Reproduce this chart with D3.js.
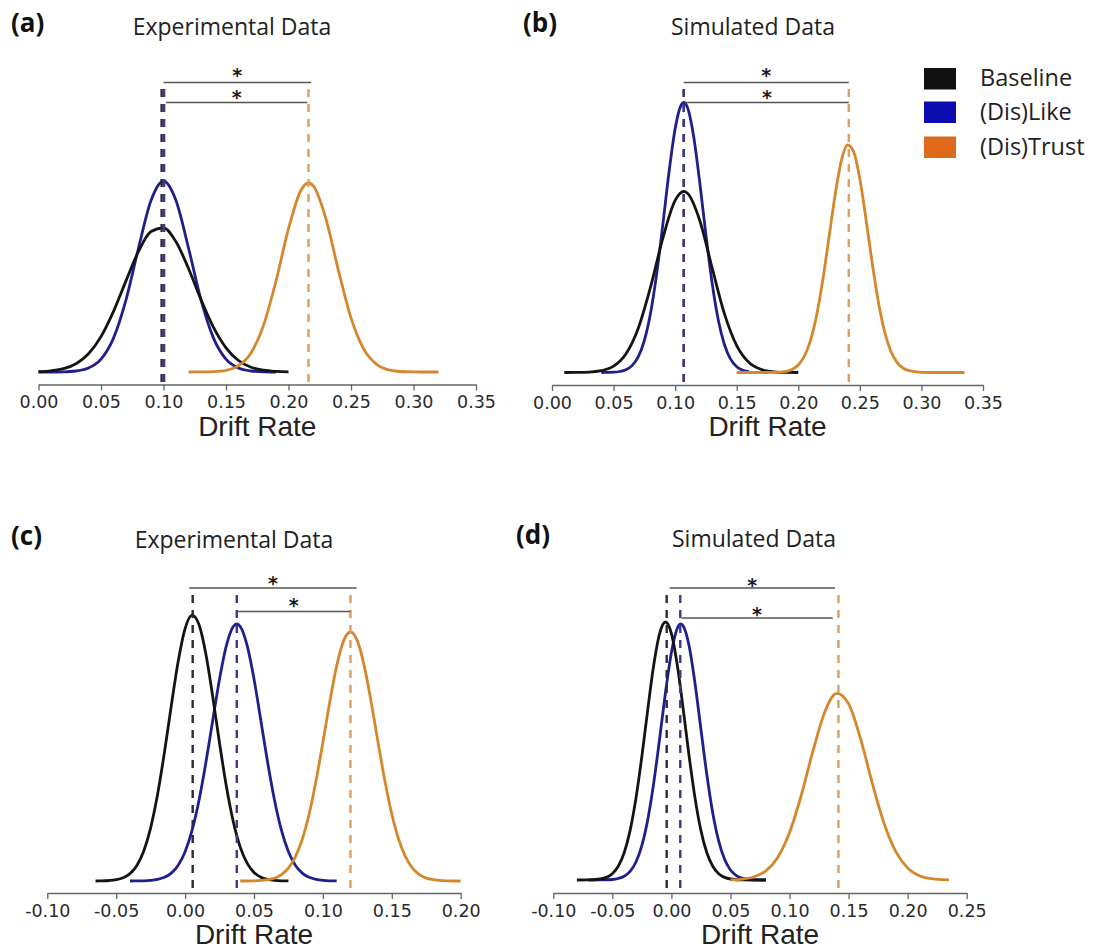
<!DOCTYPE html>
<html lang="en">
<head>
  <meta charset="UTF-8">
  <title>Drift Rate posteriors</title>
  <script src="https://d3js.org/d3.v7.min.js"></script>
  <style>
    body { margin: 0; background: #fff; }
    svg { display: block; }
    .tick text { font-family: "DejaVu Sans", sans-serif; font-size: 17.5px; fill: #2a2a2a; }
    .tick line, .domain { stroke: #666; stroke-width: 1.3; }
  </style>
</head>
<body>
  <div id="chart"></div>

  <script>
    // ---- data (density estimates) ----
    const conditions = ["Baseline", "(Dis)Like", "(Dis)Trust"];
    const panelTags = ["(a)", "(b)", "(c)", "(d)"];
    const panelTitles = ["Experimental Data", "Simulated Data", "Experimental Data", "Simulated Data"];

    const ticksAB = [0, 0.05, 0.10, 0.15, 0.20, 0.25, 0.30, 0.35];
    const tickLabelsAB = ["0.00", "0.05", "0.10", "0.15", "0.20", "0.25", "0.30", "0.35"];
    const ticksC = [-0.10, -0.05, 0, 0.05, 0.10, 0.15, 0.20];
    const tickLabelsC = ["-0.10", "-0.05", "0.00", "0.05", "0.10", "0.15", "0.20"];
    const ticksD = [-0.10, -0.05, 0, 0.05, 0.10, 0.15, 0.20, 0.25];
    const tickLabelsD = ["-0.10", "-0.05", "0.00", "0.05", "0.10", "0.15", "0.20", "0.25"];

    // panel (a)
    const aBaseline = [[0.00,0.04],[0.01,0.12],[0.02,0.33],[0.03,0.83],[0.04,1.83],[0.05,3.54],[0.06,6.06],[0.07,9.11],[0.08,12.06],[0.09,14.05],[0.10,14.42],[0.11,13.02],[0.12,10.35],[0.13,7.24],[0.14,4.46],[0.15,2.42],[0.16,1.15],[0.17,0.48],[0.18,0.18],[0.19,0.06],[0.20,0.02]];
    const aLike = [[0.00,0],[0.01,0],[0.02,0.02],[0.03,0.10],[0.04,0.39],[0.05,1.28],[0.06,3.39],[0.07,7.22],[0.08,12.4],[0.09,17.14],[0.10,19.1],[0.11,17.14],[0.12,12.4],[0.13,7.22],[0.14,3.39],[0.15,1.28],[0.16,0.39],[0.17,0.10],[0.18,0.02],[0.19,0]];
    const aTrust = [[0.12,0],[0.13,0.01],[0.14,0.04],[0.15,0.17],[0.16,0.63],[0.17,1.91],[0.18,4.66],[0.19,9.10],[0.20,14.33],[0.21,18.18],[0.216,18.9],[0.22,18.58],[0.23,15.29],[0.24,10.14],[0.25,5.41],[0.26,2.33],[0.27,0.81],[0.28,0.22],[0.29,0.05],[0.30,0.01],[0.31,0],[0.32,0]];
    const aMeans = [0.0985, 0.1005, 0.216];
    const aBrackets = [[0.100, 0.218], [0.102, 0.215]];

    // panel (b)
    const bBaseline = [[0.01,0],[0.02,0.01],[0.03,0.04],[0.04,0.18],[0.05,0.63],[0.06,1.85],[0.07,4.40],[0.08,8.53],[0.09,13.43],[0.10,17.21],[0.107,18.1],[0.11,17.93],[0.12,15.20],[0.13,10.48],[0.14,5.88],[0.15,2.68],[0.16,0.99],[0.17,0.30],[0.18,0.07],[0.19,0.01],[0.20,0]];
    const bLike = [[0.040,0],[0.045,0.01],[0.050,0.03],[0.055,0.10],[0.060,0.27],[0.065,0.69],[0.070,1.56],[0.075,3.20],[0.080,5.92],[0.085,9.86],[0.090,14.79],[0.095,20.01],[0.100,24.38],[0.105,26.78],[0.107,27.0],[0.110,26.50],[0.115,23.63],[0.120,18.99],[0.125,13.76],[0.130,8.98],[0.135,5.28],[0.140,2.80],[0.145,1.34],[0.150,0.58],[0.155,0.22],[0.160,0.08]];
    const bTrust = [[0.150,0],[0.170,0],[0.180,0.01],[0.190,0.12],[0.195,0.31],[0.200,0.75],[0.205,1.65],[0.210,3.24],[0.215,5.79],[0.220,9.32],[0.225,13.57],[0.230,17.83],[0.235,21.19],[0.240,22.75],[0.245,22.07],[0.250,19.35],[0.255,15.32],[0.260,10.97],[0.265,7.08],[0.270,4.14],[0.275,2.18],[0.280,1.04],[0.285,0.45],[0.290,0.18],[0.300,0.02],[0.310,0],[0.335,0]];
    const bMeans = [0.107, 0.107, 0.241];
    const bBrackets = [[0.107, 0.241], [0.108, 0.241]];

    // panel (c)
    const cBaseline = [[-0.065,0],[-0.060,0.02],[-0.055,0.05],[-0.050,0.13],[-0.045,0.32],[-0.040,0.74],[-0.035,1.56],[-0.030,3.01],[-0.025,5.32],[-0.020,8.64],[-0.015,12.86],[-0.010,17.55],[-0.005,21.97],[0.000,25.24],[0.005,26.59],[0.010,25.68],[0.015,22.75],[0.020,18.49],[0.025,13.78],[0.030,9.42],[0.035,5.91],[0.040,3.39],[0.045,1.79],[0.050,0.86],[0.055,0.38],[0.060,0.16],[0.065,0.06],[0.070,0.02],[0.075,0.01]];
    const cLike = [[-0.040,0],[-0.035,0.01],[-0.030,0.02],[-0.025,0.06],[-0.020,0.16],[-0.015,0.37],[-0.010,0.79],[-0.005,1.58],[0.000,2.93],[0.005,5.03],[0.010,8.00],[0.015,11.77],[0.020,16.02],[0.025,20.2],[0.030,23.56],[0.035,25.45],[0.0375,25.7],[0.040,25.45],[0.045,23.56],[0.050,20.2],[0.055,16.02],[0.060,11.77],[0.065,8.00],[0.070,5.03],[0.075,2.93],[0.080,1.58],[0.085,0.79],[0.090,0.37],[0.095,0.16],[0.100,0.06],[0.105,0.02],[0.110,0.01]];
    const cTrust = [[0.040,0],[0.050,0.02],[0.060,0.13],[0.070,0.64],[0.075,1.29],[0.080,2.41],[0.085,4.16],[0.090,6.69],[0.095,10.0],[0.100,13.88],[0.105,17.92],[0.110,21.51],[0.115,24.01],[0.120,24.9],[0.125,24.01],[0.130,21.51],[0.135,17.92],[0.140,13.88],[0.145,10.0],[0.150,6.69],[0.155,4.16],[0.160,2.41],[0.165,1.29],[0.170,0.64],[0.180,0.13],[0.190,0.02],[0.200,0]];
    const cMeans = [0.0055, 0.0375, 0.120];
    const cBrackets = [[0.003, 0.1245], [0.0375, 0.120]];

    // panel (d)
    const dBaseline = [[-0.080,0],[-0.070,0.01],[-0.060,0.10],[-0.055,0.26],[-0.050,0.63],[-0.045,1.37],[-0.040,2.72],[-0.035,4.94],[-0.030,8.19],[-0.025,12.38],[-0.020,17.07],[-0.015,21.47],[-0.010,24.64],[-0.005,25.8],[0.000,24.64],[0.005,21.47],[0.010,17.07],[0.015,12.38],[0.020,8.19],[0.025,4.94],[0.030,2.72],[0.035,1.37],[0.040,0.63],[0.045,0.26],[0.050,0.10],[0.060,0.01],[0.070,0],[0.080,0]];
    const dLike = [[-0.070,0],[-0.060,0.01],[-0.050,0.05],[-0.045,0.15],[-0.040,0.37],[-0.035,0.86],[-0.030,1.80],[-0.025,3.46],[-0.020,6.06],[-0.015,9.69],[-0.010,14.12],[-0.005,18.77],[0.000,22.76],[0.005,25.18],[0.008,25.6],[0.010,25.41],[0.015,23.4],[0.020,19.65],[0.025,15.06],[0.030,10.53],[0.035,6.71],[0.040,3.91],[0.045,2.07],[0.050,1.00],[0.055,0.44],[0.060,0.18],[0.065,0.06],[0.070,0.02],[0.080,0]];
    const dTrust = [[0.050,0.02],[0.060,0.09],[0.070,0.32],[0.080,0.92],[0.090,2.26],[0.100,4.75],[0.110,8.50],[0.120,12.96],[0.130,16.85],[0.140,18.67],[0.150,17.62],[0.160,14.18],[0.170,9.72],[0.180,5.68],[0.190,2.83],[0.200,1.20],[0.210,0.43],[0.220,0.13],[0.230,0.04],[0.235,0.02]];
    const dMeans = [-0.004, 0.0075, 0.1414];
    const dBrackets = [[-0.0015, 0.1385], [0.0085, 0.1365]];

    // ---- styles ----
    const curveColors = ["#141414", "#20208c", "#d5872c"];
    const dashColors = ["#2a2a3a", "#3a3a8c", "#dc9f60"];
    const legendColors = ["#111111", "#0c0cb0", "#e06a1c"];

    const width = 1094, height = 949;
    const svg = d3.select("#chart").append("svg")
      .attr("width", width)
      .attr("height", height);
    svg.append("rect").attr("width", width).attr("height", height).attr("fill", "#fff");

    const panels = [
      { tag: 0, series: [aBaseline, aLike, aTrust], means: aMeans, brackets: aBrackets,
        domain: [0, 0.35], xRange: [38.5, 476], ticks: ticksAB, labels: tickLabelsAB,
        base: 372, axisY: 384.5, dashTop: 89, bracketY: [82.5, 102.5], starY: [71.3, 93.6],
        tagX: 11, titleX: 232, titleY: 35 },
      { tag: 1, series: [bBaseline, bLike, bTrust], means: bMeans, brackets: bBrackets,
        domain: [0, 0.35], xRange: [552, 983], ticks: ticksAB, labels: tickLabelsAB,
        base: 372.5, axisY: 385, dashTop: 89, bracketY: [82.5, 102.5], starY: [71.3, 93.6],
        tagX: 523, titleX: 753, titleY: 35 },
      { tag: 2, series: [cBaseline, cLike, cTrust], means: cMeans, brackets: cBrackets,
        domain: [-0.10, 0.20], xRange: [47.3, 460.7], ticks: ticksC, labels: tickLabelsC,
        base: 881, axisY: 893, dashTop: 595, bracketY: [588, 611.5], starY: [579.5, 601.7],
        tagX: 11, titleX: 234, titleY: 548 },
      { tag: 3, series: [dBaseline, dLike, dTrust], means: dMeans, brackets: dBrackets,
        domain: [-0.10, 0.25], xRange: [553.3, 966.7], ticks: ticksD, labels: tickLabelsD,
        base: 880, axisY: 893, dashTop: 595, bracketY: [588, 618], starY: [581.5, 610],
        tagX: 516, titleX: 754, titleY: 547 }
    ];

    panels.forEach(drawPanel);

    function drawPanel(p) {
      const g = svg.append("g");
      const x = d3.scaleLinear().domain(p.domain).range(p.xRange);
      const y = d3.scaleLinear().domain([0, 30]).range([p.base, p.base - 300]);

      const xAxis = d3.axisBottom(x)
        .tickValues(p.ticks)
        .tickFormat((d, i) => p.labels[i])
        .tickSize(6)
        .tickSizeOuter(0)
        .tickPadding(5.3);
      g.append("g")
        .attr("transform", `translate(0,${p.axisY})`)
        .call(xAxis);

      const line = d3.line()
        .x(d => x(d[0]))
        .y(d => y(d[1]))
        .curve(d3.curveMonotoneX);

      // draw (Dis)Like first so Baseline sits above it
      [1, 0, 2].forEach(i => {
        g.append("path")
          .datum(p.series[i])
          .attr("fill", "none")
          .attr("stroke", curveColors[i])
          .attr("stroke-width", 2.8)
          .attr("stroke-linejoin", "round")
          .attr("d", line);
      });

      // dashed lines at the means
      p.means.forEach((m, i) => {
        g.append("line")
          .attr("x1", x(m)).attr("x2", x(m))
          .attr("y1", p.dashTop).attr("y2", p.axisY + 2)
          .attr("stroke", dashColors[i])
          .attr("stroke-width", 2.4)
          .attr("stroke-dasharray", "8,7");
      });

      // significance brackets
      p.brackets.forEach((b, i) => {
        const by = p.bracketY[i];
        g.append("line")
          .attr("x1", x(b[0])).attr("x2", x(b[1]))
          .attr("y1", by).attr("y2", by)
          .attr("stroke", "#555")
          .attr("stroke-width", 1.4);
        g.append("text")
          .attr("x", x((b[0] + b[1]) / 2))
          .attr("y", p.starY[i] + 10.6)
          .attr("text-anchor", "middle")
          .attr("font-family", "DejaVu Sans, sans-serif")
          .attr("font-weight", "bold")
          .attr("font-size", 19)
          .attr("fill", "#1a1a1a")
          .text("*");
      });

      // panel tag and title
      g.append("text")
        .attr("x", p.tagX).attr("y", p.titleY - 3)
        .attr("font-family", "Open Sans, sans-serif")
        .attr("font-weight", "bold")
        .attr("font-size", 26)
        .attr("fill", "#111")
        .text(panelTags[p.tag]);
      g.append("text")
        .attr("x", p.titleX).attr("y", p.titleY)
        .attr("text-anchor", "middle")
        .attr("font-family", "Open Sans, sans-serif")
        .attr("font-size", 23)
        .attr("fill", "#222")
        .text(panelTitles[p.tag]);

      // axis title
      g.append("text")
        .attr("x", (p.xRange[0] + p.xRange[1]) / 2)
        .attr("y", p.axisY + 51)
        .attr("text-anchor", "middle")
        .attr("font-family", "Liberation Sans, Arial, sans-serif")
        .attr("font-size", 28)
        .attr("fill", "#222")
        .text("Drift Rate");
    }

    // legend
    const legend = svg.append("g").attr("transform", "translate(924,68)");
    const legendRowY = [0, 33.5, 68.5];
    conditions.forEach((c, i) => {
      legend.append("rect")
        .attr("x", 0).attr("y", legendRowY[i])
        .attr("width", 32).attr("height", 21.5)
        .attr("fill", legendColors[i]);
      legend.append("text")
        .attr("x", 56).attr("y", legendRowY[i] + 18)
        .attr("font-family", "Open Sans, sans-serif")
        .attr("font-size", 23.5)
        .attr("fill", "#222")
        .text(c);
    });
  </script>
</body>
</html>
